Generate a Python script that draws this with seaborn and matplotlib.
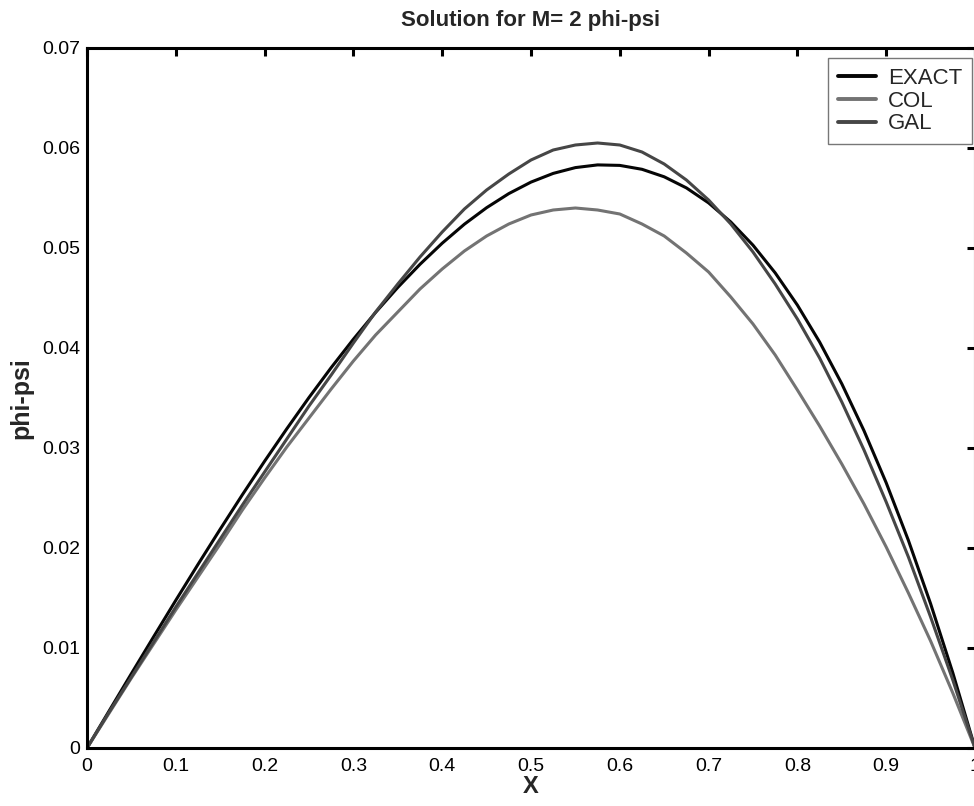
import matplotlib
matplotlib.use("Agg")
import matplotlib.pyplot as plt
import seaborn as sns
import pandas as pd

# ---- data ----
x_vals = [0.0, 0.025, 0.05, 0.075, 0.10, 0.125, 0.15, 0.175, 0.20, 0.225, 0.25,
          0.275, 0.30, 0.325, 0.35, 0.375, 0.40, 0.425, 0.45, 0.475, 0.50,
          0.525, 0.55, 0.575, 0.60, 0.625, 0.65, 0.675, 0.70, 0.725, 0.75,
          0.775, 0.80, 0.825, 0.85, 0.875, 0.90, 0.925, 0.95, 0.975, 1.0]
exact_vals = [0.0, 0.00372, 0.00744, 0.01112, 0.01477, 0.01836, 0.02188, 0.02533,
              0.02868, 0.03192, 0.03505, 0.03804, 0.04088, 0.04356, 0.04606,
              0.04837, 0.05048, 0.05238, 0.05403, 0.05544, 0.05659, 0.05746,
              0.05804, 0.05831, 0.05826, 0.05787, 0.05712, 0.05601, 0.05451,
              0.05260, 0.05028, 0.04751, 0.04429, 0.04060, 0.03642, 0.03173,
              0.02652, 0.02076, 0.01443, 0.00752, 0.0]
col_vals = [0.0, 0.0035, 0.0070, 0.0104, 0.0138, 0.0171, 0.0204, 0.0238, 0.0270,
            0.0301, 0.0330, 0.0359, 0.0387, 0.0413, 0.0436, 0.0459, 0.0479,
            0.0497, 0.0512, 0.0524, 0.0533, 0.0538, 0.0540, 0.0538, 0.0534,
            0.0524, 0.0512, 0.0495, 0.0476, 0.0451, 0.0424, 0.0393, 0.0358,
            0.0322, 0.0284, 0.0244, 0.0201, 0.0155, 0.0107, 0.0055, 0.0]
gal_vals = [0.0, 0.0036, 0.0071, 0.0106, 0.0141, 0.0175, 0.0209, 0.0243, 0.0276,
            0.0309, 0.0342, 0.0373, 0.0405, 0.0436, 0.0464, 0.0491, 0.0516,
            0.0539, 0.0558, 0.0574, 0.0588, 0.0598, 0.0603, 0.0605, 0.0603,
            0.0596, 0.0584, 0.0568, 0.0548, 0.0524, 0.0496, 0.0464, 0.0429,
            0.0390, 0.0346, 0.0298, 0.0246, 0.0191, 0.0131, 0.0068, 0.0]
series_names = ["EXACT", "COL", "GAL"]
series_colors = ["#050505", "#737373", "#464646"]
x_ticks = [0, 0.1, 0.2, 0.3, 0.4, 0.5, 0.6, 0.7, 0.8, 0.9, 1.0]
x_tick_labels = ["0", "0.1", "0.2", "0.3", "0.4", "0.5", "0.6", "0.7", "0.8", "0.9", "1"]
y_ticks = [0, 0.01, 0.02, 0.03, 0.04, 0.05, 0.06, 0.07]
y_tick_labels = ["0", "0.01", "0.02", "0.03", "0.04", "0.05", "0.06", "0.07"]

df = pd.DataFrame({
    "x": x_vals * 3,
    "val": exact_vals + col_vals + gal_vals,
    "series": [s for s in series_names for _ in x_vals],
})

sns.set_style("white")
plt.rcParams["font.family"] = ["Liberation Sans", "DejaVu Sans"]

W, H = 974, 806
fig = plt.figure(figsize=(W / 100, H / 100), dpi=100)
ax = fig.add_axes([87 / W, (H - 748) / H, 888 / W, 700 / H])

sns.lineplot(data=df, x="x", y="val", hue="series", hue_order=series_names,
             palette=dict(zip(series_names, series_colors)), linewidth=2.2,
             ax=ax, sort=False, estimator=None)

ax.set_xlim(0, 1)
ax.set_ylim(0, 0.07)
ax.set_xticks(x_ticks)
ax.set_xticklabels(x_tick_labels)
ax.set_yticks(y_ticks)
ax.set_yticklabels(y_tick_labels)
ax.tick_params(direction="in", length=6, width=2.2, top=True, right=True,
               labelsize=14, colors="black", pad=5)
ax.tick_params(axis="x", pad=7)
for sp in ax.spines.values():
    sp.set_visible(True)
    sp.set_linewidth(2.2)
    sp.set_color("black")

ax.set_title("Solution for M= 2 phi-psi", fontsize=16, fontweight="bold", pad=16)
ax.set_xlabel("X", fontsize=17, fontweight="bold", labelpad=0)
ax.set_ylabel("phi-psi", fontsize=18, fontweight="bold", labelpad=6)

handles, labels = ax.get_legend_handles_labels()
leg = ax.legend(handles, labels, loc="upper right", bbox_to_anchor=(0.997, 0.986),
                fontsize=16, frameon=True, fancybox=False, borderpad=0.45,
                handlelength=1.7, handletextpad=0.55, labelspacing=0.08,
                borderaxespad=0)
leg.get_frame().set_edgecolor("#555555")
leg.get_frame().set_linewidth(1.0)
for ln in leg.get_lines():
    ln.set_linewidth(2.8)

fig.savefig("out.png", dpi=100)
